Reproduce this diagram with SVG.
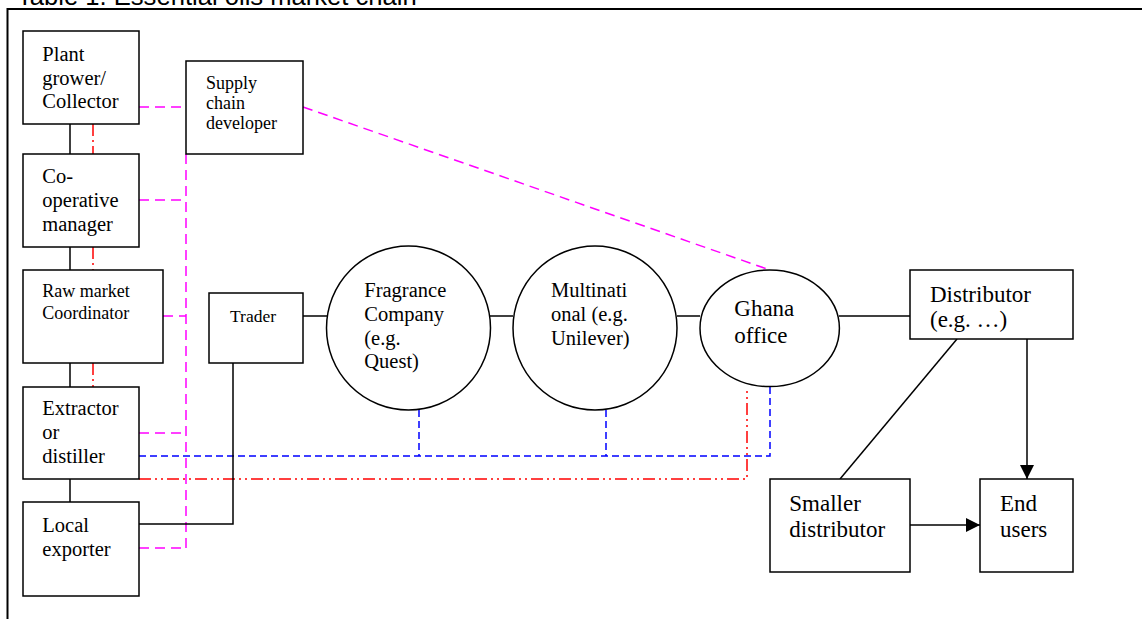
<svg xmlns="http://www.w3.org/2000/svg" width="1142" height="619" viewBox="0 0 1142 619">
<style>
  .box { fill: #fff; stroke: #000; stroke-width: 1.5; }
  .t { font-family: "Liberation Serif", "Times New Roman", serif; fill: #000; }
  .s { stroke: #000; stroke-width: 1.5; fill: none; }
  .mg { stroke: #ff00ff; stroke-width: 1.5; fill: none; stroke-dasharray: 10 6; }
  .bl { stroke: #0000ff; stroke-width: 1.5; fill: none; stroke-dasharray: 7 4; }
  .rd { stroke: #ff0000; stroke-width: 1.5; fill: none; stroke-dasharray: 12 4 2 4 2 4; }
  .rd1 { stroke: #ff0000; stroke-width: 1.5; fill: none; stroke-dasharray: 12 4 2 4; }
</style>
<defs>
  <marker id="arr" viewBox="0 0 10 10" refX="10" refY="5" markerWidth="14" markerHeight="14" markerUnits="userSpaceOnUse" orient="auto">
    <path d="M0,0 L10,5 L0,10 Z" fill="#000"/>
  </marker>
</defs>
<rect width="1142" height="619" fill="#fff"/>
<text x="17" y="5.3" font-family="Liberation Sans, Arial, sans-serif" font-size="25.6" fill="#000">Table 1. Essential oils market chain</text>
<g id="frame">
  <line x1="7.5" y1="9" x2="1142" y2="9" stroke="#000" stroke-width="2"/>
  <line x1="7.5" y1="8" x2="7.5" y2="619" stroke="#000" stroke-width="2"/>
</g>
<g id="connectors">
  <!-- black vertical chain -->
  <line class="s" x1="70" y1="124" x2="70" y2="154"/>
  <line class="s" x1="70" y1="247" x2="70" y2="270"/>
  <line class="s" x1="70" y1="363" x2="70" y2="387"/>
  <line class="s" x1="70" y1="479" x2="70" y2="502"/>
  <!-- red vertical -->
  <line class="rd1" x1="93" y1="124" x2="93" y2="154"/>
  <line class="rd1" x1="93" y1="247" x2="93" y2="270"/>
  <line class="rd1" x1="93" y1="363" x2="93" y2="387"/>
  <!-- magenta -->
  <line class="mg" x1="139" y1="107" x2="186" y2="107"/>
  <line class="mg" x1="186" y1="154" x2="186" y2="548"/>
  <line class="mg" x1="139" y1="200" x2="186" y2="200"/>
  <line class="mg" x1="163" y1="316" x2="186" y2="316"/>
  <line class="mg" x1="139" y1="433" x2="186" y2="433"/>
  <line class="mg" x1="139" y1="548" x2="186" y2="548"/>
  <line class="mg" x1="303" y1="107" x2="770" y2="270"/>
  <!-- blue -->
  <polyline class="bl" points="139,456 770,456 770,387"/>
  <line class="bl" x1="419" y1="410" x2="419" y2="456"/>
  <line class="bl" x1="606" y1="410" x2="606" y2="456"/>
  <!-- red horizontal -->
  <polyline class="rd" points="139,479 747,479 747,387"/>
  <!-- black -->
  <polyline class="s" points="139,524 233,524 233,361"/>
  <line class="s" x1="303" y1="316" x2="327" y2="316"/>
  <line class="s" x1="490" y1="316" x2="513" y2="316"/>
  <line class="s" x1="677" y1="316" x2="700" y2="316"/>
  <line class="s" x1="839" y1="316" x2="910" y2="316"/>
  <line class="s" x1="957" y1="339" x2="840" y2="479"/>
  <line class="s" x1="1027" y1="339" x2="1027" y2="479" marker-end="url(#arr)"/>
  <line class="s" x1="910" y1="525" x2="980" y2="525" marker-end="url(#arr)"/>
</g>
<g id="plant-grower">
  <rect class="box" x="23" y="31" width="116" height="93"/>
  <text class="t" font-size="20.5" x="42.3" y="61">Plant</text>
  <text class="t" font-size="20.5" x="42.3" y="84.5">grower/</text>
  <text class="t" font-size="20.5" x="42.3" y="108">Collector</text>
</g>
<g id="supply-chain-developer">
  <rect class="box" x="186" y="61" width="117" height="93"/>
  <text class="t" font-size="18" x="206" y="89.3">Supply</text>
  <text class="t" font-size="18" x="206" y="108.8">chain</text>
  <text class="t" font-size="18" x="206" y="129.3">developer</text>
</g>
<g id="co-operative-manager">
  <rect class="box" x="23" y="154" width="116" height="93"/>
  <text class="t" font-size="20.5" x="42.3" y="183.3">Co-</text>
  <text class="t" font-size="20.5" x="42.3" y="207">operative</text>
  <text class="t" font-size="20.5" x="42.3" y="230.7">manager</text>
</g>
<g id="raw-market-coordinator">
  <rect class="box" x="23" y="270" width="140" height="93"/>
  <text class="t" font-size="18" x="42.3" y="297">Raw market</text>
  <text class="t" font-size="18" x="42.3" y="318.5">Coordinator</text>
</g>
<g id="trader">
  <rect class="box" x="209" y="293" width="94" height="70"/>
  <text class="t" font-size="17.5" x="230" y="321.7">Trader</text>
</g>
<g id="extractor">
  <rect class="box" x="23" y="387" width="116" height="92"/>
  <text class="t" font-size="20.5" x="42.3" y="415">Extractor</text>
  <text class="t" font-size="20.5" x="42.3" y="439.3">or</text>
  <text class="t" font-size="20.5" x="42.3" y="463.3">distiller</text>
</g>
<g id="local-exporter">
  <rect class="box" x="23" y="502" width="116" height="94"/>
  <text class="t" font-size="20.5" x="42.3" y="531.7">Local</text>
  <text class="t" font-size="20.5" x="42.3" y="556">exporter</text>
</g>
<g id="fragrance-company">
  <circle class="box" cx="408.5" cy="328" r="82"/>
  <text class="t" font-size="20.5" x="364.3" y="296.7">Fragrance</text>
  <text class="t" font-size="20.5" x="364.3" y="321">Company</text>
  <text class="t" font-size="20.5" x="364.3" y="345">(e.g.</text>
  <text class="t" font-size="20.5" x="364.3" y="368.3">Quest)</text>
</g>
<g id="multinational">
  <circle class="box" cx="595" cy="328" r="82"/>
  <text class="t" font-size="20.5" x="551" y="296.7">Multinati</text>
  <text class="t" font-size="20.5" x="551" y="321">onal (e.g.</text>
  <text class="t" font-size="20.5" x="551" y="345">Unilever)</text>
</g>
<g id="ghana-office">
  <ellipse class="box" cx="769.7" cy="328.3" rx="69.7" ry="58.3"/>
  <text class="t" font-size="23" x="734.3" y="316">Ghana</text>
  <text class="t" font-size="23" x="734.3" y="342.7">office</text>
</g>
<g id="distributor">
  <rect class="box" x="910" y="270" width="163" height="69"/>
  <text class="t" font-size="23" x="930" y="301.7">Distributor</text>
  <text class="t" font-size="23" x="930" y="327.3">(e.g. …)</text>
</g>
<g id="smaller-distributor">
  <rect class="box" x="770" y="479" width="140" height="93"/>
  <text class="t" font-size="23" x="789.3" y="511">Smaller</text>
  <text class="t" font-size="23" x="789.3" y="537.3">distributor</text>
</g>
<g id="end-users">
  <rect class="box" x="980" y="479" width="93" height="93"/>
  <text class="t" font-size="23" x="1000" y="511">End</text>
  <text class="t" font-size="23" x="1000" y="537.3">users</text>
</g>
</svg>
